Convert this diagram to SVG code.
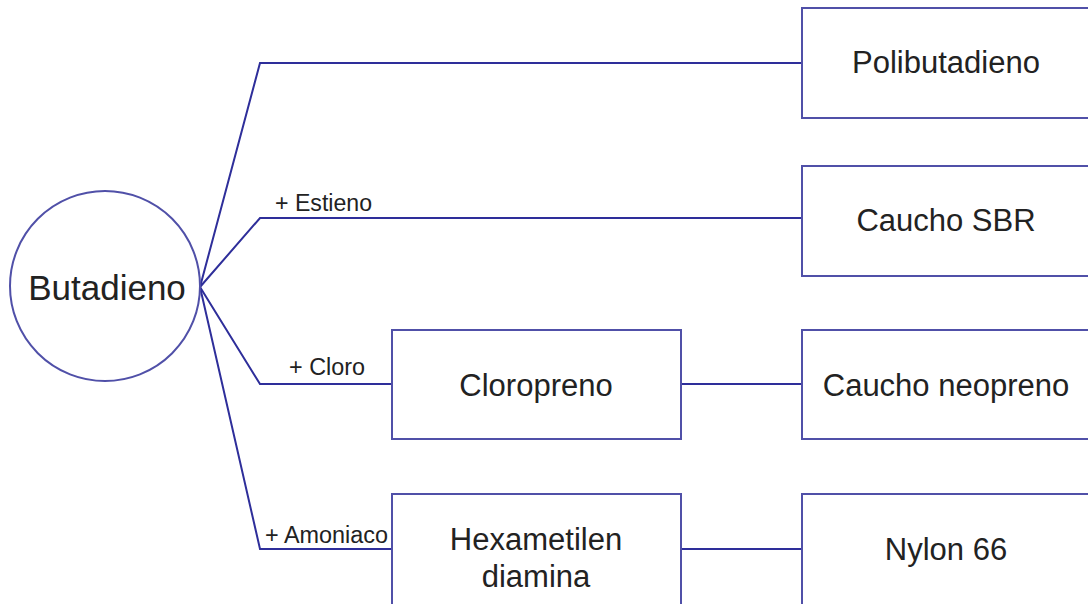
<svg xmlns="http://www.w3.org/2000/svg" width="1088" height="604" viewBox="0 0 1088 604">
  <style>
    .box { fill: #ffffff; stroke: #5050a8; stroke-width: 2; }
    .link { fill: none; stroke: #2e2e9a; stroke-width: 2; }
    .main { font-family: "Liberation Sans", Arial, sans-serif; font-size: 31px; fill: #222222; text-anchor: middle; }
    .tag { font-family: "Liberation Sans", Arial, sans-serif; font-size: 23px; fill: #222222; }
  </style>
  <rect width="1088" height="604" fill="#ffffff"/>

  <!-- connectors -->
  <g id="connectors">
    <polyline class="link" points="200,287 260,63 802,63"/>
    <polyline class="link" points="200,287 260,218 802,218"/>
    <polyline class="link" points="200,287 260,384 392,384"/>
    <polyline class="link" points="200,287 260,549 392,549"/>
    <line class="link" x1="681" y1="384" x2="802" y2="384"/>
    <line class="link" x1="681" y1="549" x2="802" y2="549"/>
    <text class="tag" x="275" y="211" textLength="97" lengthAdjust="spacingAndGlyphs">+ Estieno</text>
    <text class="tag" x="289" y="375" textLength="76" lengthAdjust="spacingAndGlyphs">+ Cloro</text>
    <text class="tag" x="265" y="543" textLength="123" lengthAdjust="spacingAndGlyphs">+ Amoniaco</text>
  </g>

  <g id="butadieno">
    <circle class="box" cx="105" cy="286" r="95"/>
    <text class="main" x="107" y="300" style="font-size:35px">Butadieno</text>
  </g>

  <g id="polibutadieno">
    <rect class="box" x="802" y="8" width="289" height="110"/>
    <text class="main" x="946" y="73">Polibutadieno</text>
  </g>

  <g id="caucho-sbr">
    <rect class="box" x="802" y="166" width="289" height="110"/>
    <text class="main" x="946" y="231">Caucho SBR</text>
  </g>

  <g id="cloropreno">
    <rect class="box" x="392" y="330" width="289" height="109"/>
    <text class="main" x="536" y="396">Cloropreno</text>
  </g>

  <g id="caucho-neopreno">
    <rect class="box" x="802" y="330" width="289" height="109"/>
    <text class="main" x="946" y="396">Caucho neopreno</text>
  </g>

  <g id="hexametilen-diamina">
    <rect class="box" x="392" y="494" width="289" height="112"/>
    <text class="main" x="536" y="550">Hexametilen</text>
    <text class="main" x="536" y="587">diamina</text>
  </g>

  <g id="nylon-66">
    <rect class="box" x="802" y="494" width="289" height="112"/>
    <text class="main" x="946" y="560">Nylon 66</text>
  </g>
</svg>
